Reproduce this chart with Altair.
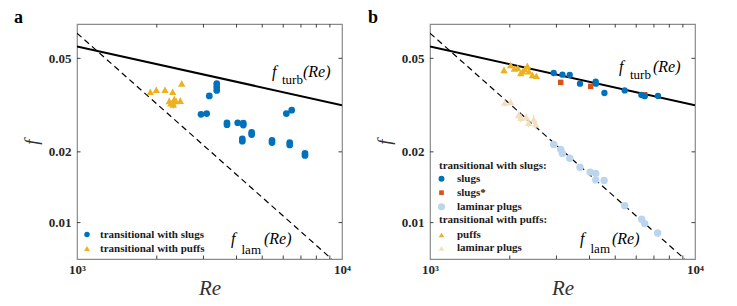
import altair as alt
import pandas as pd

# ---------------- data ----------------
# panel a
a_slug_re = [2938, 3086, 3157, 3367, 3367, 3367, 3681, 3681, 4040, 4242, 4242, 4205, 4205,
             4562, 4562, 5443, 5443, 6166, 6460, 6350, 6350, 7250, 7250]
a_slug_f = [0.0289, 0.0291, 0.0346, 0.0390, 0.0378, 0.0365, 0.0266, 0.0261, 0.0266, 0.0265, 0.0260,
            0.0227, 0.0222, 0.0242, 0.0237, 0.0224, 0.0219, 0.0291, 0.0301, 0.0219, 0.0214, 0.0197, 0.0193]
a_puff_re = [1891, 1992, 2148, 2297, 2484, 2230, 2297, 2364, 2454, 2329, 2310, 2260]
a_puff_f = [0.0360, 0.0367, 0.0367, 0.0360, 0.0391, 0.0329, 0.0324, 0.0329, 0.0330, 0.0335, 0.0318, 0.0322]
a_puff_err = [0.0010, 0.0010, 0.0009, 0.0010, 0.0010, 0.0011, 0.0012, 0.0010, 0.0010, 0.0010, 0.0012, 0.0010]

# panel b
b_slug_re = [2929, 3160, 3368, 3681, 4220, 4230, 4552, 5429, 6278, 6460, 7250]
b_slug_f = [0.0433, 0.0426, 0.0425, 0.0390, 0.0398, 0.0390, 0.0356, 0.0365, 0.0349, 0.0345, 0.0346]
b_slugstar_re = [3113, 4041, 6460]
b_slugstar_f = [0.0395, 0.0380, 0.0350]
b_lamslug_re = [2929, 3113, 3160, 3368, 3681, 4023, 4220, 4220, 4540, 5429, 6294, 6460, 7230]
b_lamslug_f = [0.0215, 0.0205, 0.0197, 0.0188, 0.0172, 0.0164, 0.0162, 0.0152, 0.0151, 0.0118,
               0.01033, 0.0099, 0.00903]
b_puff_re = [1902, 2016, 2080, 2143, 2199, 2238, 2280, 2331, 2364, 2435, 2521]
b_puff_f = [0.0446, 0.0468, 0.0452, 0.0455, 0.0433, 0.0440, 0.0450, 0.0464, 0.0440, 0.0425, 0.0421]
b_puff_err = [0.0012, 0.0010, 0.0010, 0.0011, 0.0012, 0.0010, 0.0010, 0.0011, 0.0012, 0.0010, 0.0010]
b_lampuff_re = [1914, 2016, 2161, 2204, 2307, 2358, 2462, 2506]
b_lampuff_f = [0.0324, 0.0326, 0.0287, 0.0279, 0.0281, 0.0266, 0.0275, 0.0262]
b_lampuff_err = [0.0012, 0.0012, 0.0011, 0.0012, 0.0012, 0.0012, 0.0013, 0.0011]

# reference laws (end points of the straight log-log lines)
turb_re = [1000, 10000]
turb_f = [0.0562, 0.0316]
lam_re = [1000, 9143]
lam_f = [0.064, 0.007]

# axis ticks
x_minor = [2000, 3000, 4000, 5000, 6000, 7000, 8000, 9000]
x_labels = [1000, 10000]
y_labels = [0.01, 0.02, 0.05]

# ---------------- styling ----------------
W, H = 265, 235
SERIF = "Liberation Serif"
BLUE = "#0072BD"
ORANGE = "#D95319"
YELLOW = "#EDB120"
LBLUE = "#bcd5ef"
LYELLOW = "#f3dfbd"
FRAME = "#8a8a8a"

xs = alt.Scale(type="log", domain=[1000, 10000], nice=False)
ys = alt.Scale(type="log", domain=[0.007, 0.07], nice=False)

x_axis = alt.Axis(values=x_labels, labelExpr="datum.value == 1000 ? '10³' : '10⁴'",
                  title="Re", ticks=False, grid=False, labelFlush=False, domain=False,
                  labelFont=SERIF, labelFontWeight="bold", labelFontSize=13, labelColor="#262626",
                  labelPadding=4, titleFont=SERIF, titleFontStyle="italic", titleFontWeight="normal",
                  titleFontSize=21, titleColor="#333333", titlePadding=1)
y_axis = alt.Axis(values=y_labels, format=".2f", title="f", ticks=False, grid=False,
                  labelFlush=False, domain=False,
                  labelFont=SERIF, labelFontWeight="bold", labelFontSize=13, labelColor="#262626",
                  labelPadding=6, titleFont=SERIF, titleFontStyle="italic", titleFontWeight="normal",
                  titleFontSize=19, titleColor="#333333", titlePadding=7)


def df(re, f, err=None):
    d = pd.DataFrame({"Re": re, "f": f})
    if err is not None:
        d["lo"] = [a - e for a, e in zip(f, err)]
        d["hi"] = [a + e for a, e in zip(f, err)]
    return d


def X(field="Re:Q"):
    return alt.X(field, scale=xs, axis=x_axis)


def Y(field="f:Q"):
    return alt.Y(field, scale=ys, axis=y_axis)


def pts(re, f, shape, color, size):
    return alt.Chart(df(re, f)).mark_point(shape=shape, filled=True, color=color, size=size,
                                          opacity=1, strokeWidth=0).encode(x=X(), y=Y())


def errs(re, f, err, color):
    return alt.Chart(df(re, f, err)).mark_rule(color=color, strokeWidth=1.2).encode(
        x=X(), y=Y("lo:Q"), y2="hi:Q")


def law_lines():
    turb = alt.Chart(df(turb_re, turb_f)).mark_line(color="black", strokeWidth=2, clip=True).encode(
        x=X(), y=Y())
    lam = alt.Chart(df(lam_re, lam_f)).mark_line(color="black", strokeWidth=1.2, strokeDash=[6, 4],
                                                 clip=True).encode(x=X(), y=Y())
    return [turb, lam]


def one():
    return pd.DataFrame({"t": [0]})


def ticks():
    xt = pd.DataFrame({"Re": x_minor})
    yt = pd.DataFrame({"f": y_labels})
    L = 3.5
    c = "#404040"
    out = []
    for y0, y1 in [(H, H - L), (0, L)]:
        out.append(alt.Chart(xt).mark_rule(color=c, strokeWidth=1).encode(
            x=X(), y=alt.value(y0), y2=alt.value(y1)))
    for x0, x1 in [(0, L), (W, W - L)]:
        out.append(alt.Chart(yt).mark_rule(color=c, strokeWidth=1).encode(
            y=Y(), x=alt.value(x0), x2=alt.value(x1)))
    return out


def txt(s, x, y, size=11, style="normal", weight="bold", baseline="middle", color="#1a1a1a"):
    return alt.Chart(pd.DataFrame({"t": [s]})).mark_text(
        align="left", baseline=baseline, font=SERIF, fontSize=size, fontStyle=style,
        fontWeight=weight, color=color).encode(x=alt.value(x), y=alt.value(y), text="t:N")


def sym(shape, color, x, y, size):
    return alt.Chart(one()).mark_point(
        shape=shape, filled=True, color=color, size=size, opacity=1, strokeWidth=0).encode(
        x=alt.value(x), y=alt.value(y))


def law_label(sub, fx, base, subx, subbase, rex):
    return [txt("f", fx, base, size=16, style="italic", weight="normal", baseline="alphabetic", color="black"),
            txt(sub, subx, subbase, size=13, weight="normal", baseline="alphabetic", color="black"),
            txt("(Re)", rex, base, size=16, style="italic", weight="normal", baseline="alphabetic", color="black")]


# ---------------- panel a ----------------
layers_a = law_lines() + ticks() + [
    errs(a_puff_re, a_puff_f, a_puff_err, YELLOW),
    pts(a_puff_re, a_puff_f, "triangle-up", YELLOW, 55),
    pts(a_slug_re, a_slug_f, "circle", BLUE, 45),
] + law_label("turb", 195, 53, 205, 59.5, 226) + law_label("lam", 154, 220, 164.5, 229.5, 187) + [
    sym("circle", BLUE, 10, 210.5, 30),
    sym("triangle-up", YELLOW, 10, 224.5, 34),
    txt("transitional with slugs", 23, 210.5),
    txt("transitional with puffs", 23, 225),
    txt("a", -63, -1, size=18, weight="bold", baseline="alphabetic", color="black"),
]
panel_a = alt.layer(*layers_a).properties(width=W, height=H)

# ---------------- panel b ----------------
layers_b = law_lines() + ticks() + [
    errs(b_lampuff_re, b_lampuff_f, b_lampuff_err, LYELLOW),
    pts(b_lampuff_re, b_lampuff_f, "triangle-up", LYELLOW, 55),
    errs(b_puff_re, b_puff_f, b_puff_err, YELLOW),
    pts(b_puff_re, b_puff_f, "triangle-up", YELLOW, 55),
    pts(b_lamslug_re, b_lamslug_f, "circle", LBLUE, 55),
    pts(b_slugstar_re, b_slugstar_f, "square", ORANGE, 30),
    pts(b_slug_re, b_slug_f, "circle", BLUE, 40),
] + law_label("turb", 189, 47.5, 200, 55, 223) + law_label("lam", 150, 220, 160.5, 228.5, 182) + [
    txt("transitional with slugs:", 9, 142),
    sym("circle", BLUE, 11.5, 154.7, 35),
    txt("slugs", 27, 154.7),
    sym("square", ORANGE, 11.5, 168.7, 22),
    txt("slugs*", 27, 168.7),
    sym("circle", LBLUE, 11.5, 182.7, 50),
    txt("laminar plugs", 27, 182.7),
    txt("transitional with puffs:", 9, 196.3),
    sym("triangle-up", YELLOW, 11.5, 211, 30),
    txt("puffs", 27, 211),
    sym("triangle-up", LYELLOW, 11.5, 224.3, 30),
    txt("laminar plugs", 27, 224.3),
    txt("b", -62, -1, size=18, weight="bold", baseline="alphabetic", color="black"),
]
panel_b = alt.layer(*layers_b).properties(width=W, height=H)

chart = alt.hconcat(panel_a, panel_b, spacing=88, bounds="flush").properties(
    padding={"left": 5, "top": 0, "right": 5, "bottom": 5}
).configure_view(stroke=FRAME, strokeWidth=1.2)

chart.save("out.html", embed_options={"renderer": "svg", "actions": False})
